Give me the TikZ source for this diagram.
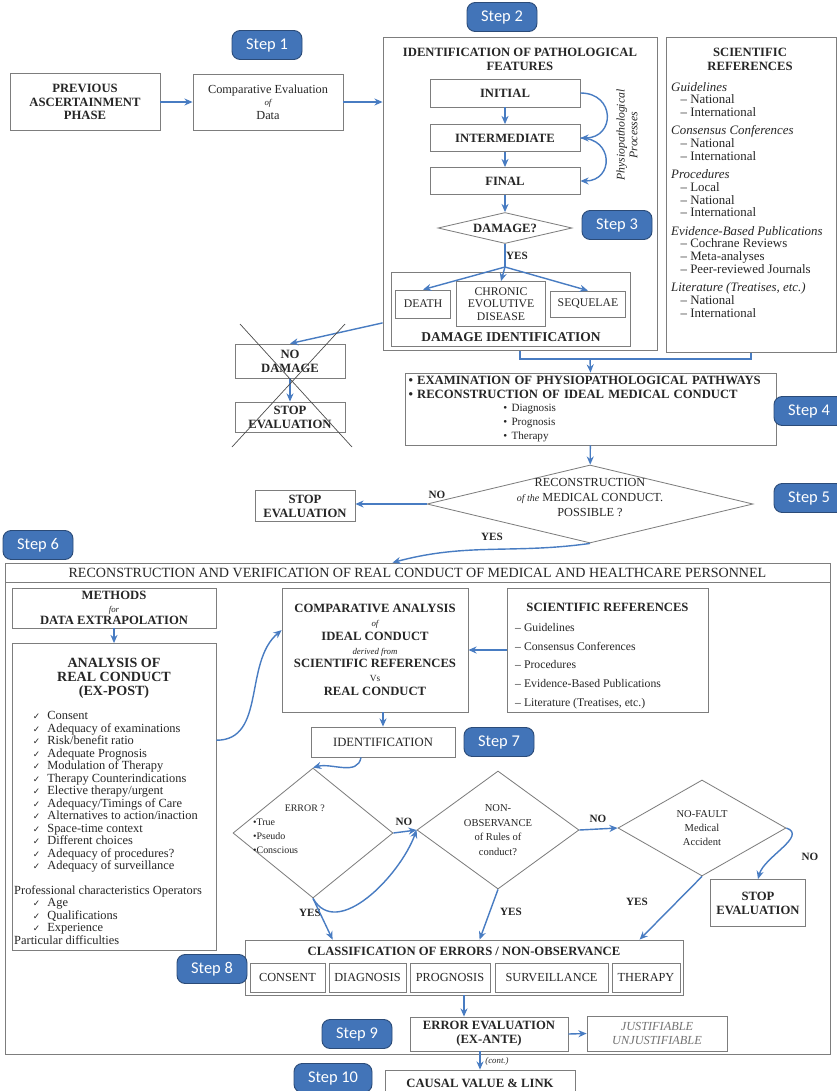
\documentclass[tikz,border=0pt]{standalone}
\usepackage{fontspec}
\setmainfont{Liberation Serif}
\newfontfamily\stepfont{Carlito}
\newfontfamily\symfont{DejaVu Sans}
\usetikzlibrary{shapes.geometric,arrows.meta}

\newlength{\pxu}
\setlength{\pxu}{0.03cm}
\definecolor{stepblue}{RGB}{66,116,184}
\definecolor{flowblue}{RGB}{72,124,194}
\definecolor{boxline}{RGB}{125,125,125}
\newcommand{\bfont}{\fontsize{10.8}{11.8}\selectfont}
\newcommand{\chk}{\hspace*{16pt}{\symfont\fontsize{7.5}{7}\selectfont ✓}\hspace{6pt}}

\tikzset{
  box/.style={draw=boxline, line width=0.7pt, fill=white, align=center, inner sep=1pt, text=black!85},
  decision/.style={diamond, draw=boxline, line width=0.7pt, fill=white, align=center, inner sep=0pt, text=black!85},
  stepbadge/.style={rounded corners=7pt, fill=stepblue, draw=stepblue!65!black, line width=0.8pt, text=white,
    font=\stepfont\fontsize{14}{16}\selectfont, minimum width=70\pxu, minimum height=29\pxu, inner sep=0pt},
  flow/.style={draw=flowblue, line width=1.2pt, -{Stealth[length=7pt,width=6pt]}},
  flowline/.style={draw=flowblue, line width=1.2pt},
  yn/.style={font=\bfseries\fontsize{9.5}{10}\selectfont, text=black!85, inner sep=0pt},
  plain/.style={align=center, inner sep=0pt, text=black!85},
}

\begin{document}
\begin{tikzpicture}[x=0.03cm, y=-0.03cm, font=\bfont]
\useasboundingbox (0,0) rectangle (836,1091);

% first row
\node[box, minimum width=150\pxu, minimum height=57\pxu, font=\bfont\bfseries] (prev) at (85,102) {PREVIOUS\\ASCERTAINMENT\\PHASE};
\node[box, minimum width=150\pxu, minimum height=56\pxu, font=\fontsize{10.5}{11.8}\selectfont] (comp) at (268,102) {Comparative Evaluation\\[-1pt]{\fontsize{7.5}{7}\selectfont\itshape of}\\[-0.5pt]Data};

% pathological features
\node[box, minimum width=274\pxu, minimum height=313\pxu] (pathfeat) at (520,194) {};
\node[plain, font=\bfont\bfseries] (pathtitle) at (520,59) {IDENTIFICATION OF PATHOLOGICAL\\FEATURES};
\node[box, minimum width=150\pxu, minimum height=28\pxu, font=\bfont\bfseries] (initial) at (505,93) {INITIAL};
\node[box, minimum width=150\pxu, minimum height=27\pxu, font=\bfont\bfseries] (intermediate) at (505,138) {INTERMEDIATE};
\node[box, minimum width=150\pxu, minimum height=27\pxu, font=\bfont\bfseries] (final) at (505,181) {FINAL};
\node[plain, rotate=90, font=\fontsize{10}{11}\selectfont\itshape] (physio) at (627,135) {Physiopathological\\Processes};
\node[decision, minimum width=134\pxu, minimum height=31\pxu, shape aspect=4.3, font=\bfont\bfseries] (damage) at (505,228) {DAMAGE?};
\node[yn] (yes1) at (517,256) {YES};
\coordinate (split) at (505,267);
\node[box, minimum width=239\pxu, minimum height=74\pxu] (damageid) at (511,309) {};
\node[plain, font=\fontsize{11.5}{13}\selectfont\bfseries] (damagetitle) at (511,337) {DAMAGE IDENTIFICATION};
\node[box, minimum width=55\pxu, minimum height=28\pxu, font=\fontsize{10}{10.5}\selectfont] (death) at (423,304) {DEATH};
\node[box, minimum width=89\pxu, minimum height=45\pxu, font=\fontsize{10}{10.5}\selectfont] (chronic) at (501,304) {CHRONIC\\EVOLUTIVE\\DISEASE};
\node[box, minimum width=75\pxu, minimum height=26\pxu, font=\fontsize{10}{10.5}\selectfont] (sequelae) at (588,304) {SEQUELAE};

% scientific references (top)
\node[box, minimum width=170\pxu, minimum height=315\pxu] (sciref) at (751,195) {};
\node[plain, font=\bfont\bfseries] (scititle) at (750,59) {SCIENTIFIC\\REFERENCES};
\node[plain, anchor=north west, align=left, font=\fontsize{11}{10.8}\selectfont] (scilist) at (671,82) {%
\textit{Guidelines}\\\hspace*{8pt}– National\\\hspace*{8pt}– International\\[5pt]
\textit{Consensus Conferences}\\\hspace*{8pt}– National\\\hspace*{8pt}– International\\[5pt]
\textit{Procedures}\\\hspace*{8pt}– Local\\\hspace*{8pt}– National\\\hspace*{8pt}– International\\[5pt]
\textit{Evidence-Based Publications}\\\hspace*{8pt}– Cochrane Reviews\\\hspace*{8pt}– Meta-analyses\\\hspace*{8pt}– Peer-reviewed Journals\\[5pt]
\textit{Literature (Treatises, etc.)}\\\hspace*{8pt}– National\\\hspace*{8pt}– International};

% no damage branch
\node[box, minimum width=110\pxu, minimum height=34\pxu, font=\bfont\bfseries] (nodamage) at (290,361) {NO\\DAMAGE};
\node[box, minimum width=110\pxu, minimum height=30\pxu, font=\bfont\bfseries] (stop1) at (290,417) {STOP\\EVALUATION};

% ideal conduct
\node[box, minimum width=371\pxu, minimum height=72\pxu, align=left, text width=364\pxu] (exam) at (590.5,409) {%
\textbf{• EXAMINATION OF PHYSIOPATHOLOGICAL PATHWAYS}\\
\textbf{• RECONSTRUCTION OF IDEAL MEDICAL CONDUCT}\\
{\fontsize{9.5}{10}\selectfont\hspace*{81pt}• Diagnosis}\\
{\fontsize{9.5}{10}\selectfont\hspace*{81pt}• Prognosis}\\
{\fontsize{9.5}{10}\selectfont\hspace*{81pt}• Therapy}};
\coordinate (join) at (590,359);
\node[decision, minimum width=326\pxu, minimum height=78\pxu, shape aspect=4.2] (recon) at (590,504) {};
\node[plain, font=\fontsize{10.5}{12.8}\selectfont] (recontext) at (590,498) {RECONSTRUCTION\\{\itshape\fontsize{8.5}{8}\selectfont of the} MEDICAL CONDUCT.\\POSSIBLE ?};
\node[box, minimum width=100\pxu, minimum height=31\pxu, font=\bfont\bfseries] (stop2) at (305,506) {STOP\\EVALUATION};
\node[yn] (no1) at (437,495) {NO};
\node[yn] (yes2) at (492,537) {YES};

% real conduct frame
\node[box, minimum width=825\pxu, minimum height=491\pxu] (realframe) at (417.5,808.5) {};
\node[box, minimum width=825\pxu, minimum height=19\pxu, font=\fontsize{12}{13}\selectfont] (realtitle) at (417.5,572.5) {RECONSTRUCTION AND VERIFICATION OF REAL CONDUCT OF MEDICAL AND HEALTHCARE PERSONNEL};

\node[box, minimum width=204\pxu, minimum height=40\pxu] (methods) at (114,608) {\textbf{METHODS}\\[-1pt]{\fontsize{7.5}{7}\selectfont\itshape for}\\[-1pt]\textbf{DATA EXTRAPOLATION}};
\node[box, minimum width=204\pxu, minimum height=307\pxu] (analysis) at (114,797) {};
\node[plain, font=\fontsize{12}{12}\selectfont\bfseries] (anatitle) at (114,678) {ANALYSIS OF\\REAL CONDUCT\\(EX-POST)};
\node[plain, anchor=north west, align=left, font=\fontsize{10.6}{10.7}\selectfont] (analist) at (14,711) {%
\chk Consent\\ \chk Adequacy of examinations\\ \chk Risk/benefit ratio\\ \chk Adequate Prognosis\\
\chk Modulation of Therapy\\ \chk Therapy Counterindications\\ \chk Elective therapy/urgent\\
\chk Adequacy/Timings of Care\\ \chk Alternatives to action/inaction\\ \chk Space-time context\\
\chk Different choices\\ \chk Adequacy of procedures?\\ \chk Adequacy of surveillance\\[10pt]
Professional characteristics Operators\\ \chk Age\\ \chk Qualifications\\ \chk Experience\\
Particular difficulties};

\node[box, minimum width=186\pxu, minimum height=124\pxu] (comparative) at (375,650) {%
\textbf{COMPARATIVE ANALYSIS}\\{\fontsize{7.5}{7}\selectfont\itshape of}\\
\textbf{IDEAL CONDUCT}\\{\fontsize{7.5}{7}\selectfont\itshape derived from}\\
\textbf{SCIENTIFIC REFERENCES}\\{\fontsize{8}{7}\selectfont Vs}\\
\textbf{REAL CONDUCT}};
\node[box, minimum width=201\pxu, minimum height=124\pxu] (sciref2) at (607.5,650) {};
\node[plain, font=\bfont\bfseries] (sci2title) at (607.5,607) {SCIENTIFIC REFERENCES};
\node[plain, anchor=north west, align=left, font=\fontsize{10}{16}\selectfont] (sci2list) at (515,623) {%
– Guidelines\\– Consensus Conferences\\– Procedures\\– Evidence-Based Publications\\– Literature (Treatises, etc.)};

\node[box, minimum width=144\pxu, minimum height=30\pxu] (ident) at (383,742) {IDENTIFICATION};

\node[decision, minimum width=160\pxu, minimum height=130\pxu, shape aspect=1.2] (error) at (313,833) {};
\node[plain, align=left, font=\fontsize{8.5}{12}\selectfont] (errortext) at (289,829) {\hspace*{27pt}ERROR ?\\•True\\•Pseudo\\•Conscious};
\node[decision, minimum width=162\pxu, minimum height=118\pxu, shape aspect=1.4, font=\fontsize{9}{12.5}\selectfont] (nonobs) at (498,830) {NON-\\OBSERVANCE\\of Rules of\\conduct?};
\node[decision, minimum width=168\pxu, minimum height=96\pxu, shape aspect=1.75, font=\fontsize{9}{12}\selectfont] (nofault) at (702,828) {NO-FAULT\\Medical\\Accident};
\node[box, minimum width=95\pxu, minimum height=47\pxu, font=\bfont\bfseries] (stop3) at (758,903) {STOP\\EVALUATION};
\node[yn] (no2) at (404,822) {NO};
\node[yn] (no3) at (598,819) {NO};
\node[yn] (no4) at (810,857) {NO};
\node[yn] (yes3) at (310,913) {YES};
\node[yn] (yes4) at (511,912) {YES};
\node[yn] (yes5) at (637,902) {YES};

\node[box, minimum width=438\pxu, minimum height=55\pxu] (class) at (464,967.5) {};
\node[plain, font=\bfont\bfseries] (classtitle) at (464,951) {CLASSIFICATION OF ERRORS / NON-OBSERVANCE};
\node[box, minimum width=75\pxu, minimum height=29\pxu, font=\fontsize{10.5}{11}\selectfont] (consent) at (287.5,977.5) {CONSENT};
\node[box, minimum width=77\pxu, minimum height=29\pxu, font=\fontsize{10.5}{11}\selectfont] (diagnosis) at (367.5,977.5) {DIAGNOSIS};
\node[box, minimum width=80\pxu, minimum height=29\pxu, font=\fontsize{10.5}{11}\selectfont] (prognosis) at (450,977.5) {PROGNOSIS};
\node[box, minimum width=113\pxu, minimum height=29\pxu, font=\fontsize{10.5}{11}\selectfont] (surveillance) at (551.5,977.5) {SURVEILLANCE};
\node[box, minimum width=68\pxu, minimum height=29\pxu, font=\fontsize{10.5}{11}\selectfont] (therapy) at (646,977.5) {THERAPY};

\node[box, minimum width=158\pxu, minimum height=34\pxu, font=\bfont\bfseries] (erreval) at (489,1034) {ERROR EVALUATION\\(EX-ANTE)};
\node[box, minimum width=140\pxu, minimum height=35\pxu, text=black!55, font=\fontsize{10.5}{11.5}\selectfont\itshape] (justif) at (657,1033.5) {JUSTIFIABLE\\UNJUSTIFIABLE};
\node[box, minimum width=190\pxu, minimum height=26\pxu, font=\bfont\bfseries] (causal) at (480,1083) {CAUSAL VALUE \& LINK};
\node[plain, font=\fontsize{7.5}{8}\selectfont\itshape] (cont) at (497,1061) {(cont.)};

% step badges
\node[stepbadge] (step1) at (267,45) {Step 1};
\node[stepbadge] (step2) at (502,17) {Step 2};
\node[stepbadge] (step3) at (617,225) {Step 3};
\node[stepbadge] (step4) at (809,411) {Step 4};
\node[stepbadge] (step5) at (809,498) {Step 5};
\node[stepbadge] (step6) at (38,545) {Step 6};
\node[stepbadge] (step7) at (499,742) {Step 7};
\node[stepbadge] (step8) at (212,969) {Step 8};
\node[stepbadge] (step9) at (357,1034) {Step 9};
\node[stepbadge, minimum width=78\pxu] (step10) at (333,1078) {Step 10};

% connectors
\draw[flow] (prev) -- (comp);
\draw[flow] (comp.east) -- (comp.east -| pathfeat.west);
\draw[flow] (initial) -- (intermediate);
\draw[flow] (intermediate) -- (final);
\draw[flow] (initial.east) to[out=0, in=0, looseness=2] (intermediate.east);
\draw[flow] (intermediate.east) to[out=0, in=0, looseness=2] (final.east);
\draw[flow] (final) -- (damage);
\draw[flowline] (damage.south) -- (split);
\draw[flow] (split) -- (death.north);
\draw[flow] (split) -- (chronic.north);
\draw[flow] (split) -- (sequelae.north);
\draw[flow] ([yshift=28\pxu]pathfeat.south west) -- (nodamage.north);
\draw[flow] (nodamage) -- (stop1);
\draw[black!70, line width=0.6pt] (240,324) -- (352,447) (345,324) -- (232,447);
\draw[flowline] (pathfeat.south) -- (pathfeat.south |- join) -| (sciref.south);
\draw[flow] (join) -- (exam.north);
\draw[flow] (exam) -- (recon);
\draw[flow] (recon.west) -- (recon.west -| stop2.east);
\draw[flow] (recon.south) to[out=188, in=15] ([xshift=-25\pxu]realtitle.north);
\draw[flow] (methods) -- (analysis);
\draw[flow] (analysis.29) to[out=0, in=-140] (comparative.168);
\draw[flow] (sciref2.west) -- (comparative.east);
\draw[flow] (ident.north |- comparative.south) -- (ident.north);
\draw[flow] ([xshift=-22\pxu]ident.south) to[out=-100, in=15] (error.north);
\draw[flow] (error.east) -- (nonobs.west);
\draw[flow] (error.south) to[out=-60, in=-110] (nonobs.west);
\draw[flow] (nonobs.east) -- (nofault.west);
\draw[flow] (nofault.east) to[out=-20, in=75] (stop3.north);
\draw[flow] (error.south) -- ([xshift=88\pxu]class.north west);
\draw[flow] (nonobs.south) -- ([xshift=235\pxu]class.north west);
\draw[flow] (nofault.south) -- ([xshift=395\pxu]class.north west);
\draw[flow] (class.south) -- (class.south |- erreval.north);
\draw[flow] (erreval.east) -- (justif.west);
\draw[flow] (causal.north |- erreval.south) -- (causal.north);
\end{tikzpicture}
\end{document}
